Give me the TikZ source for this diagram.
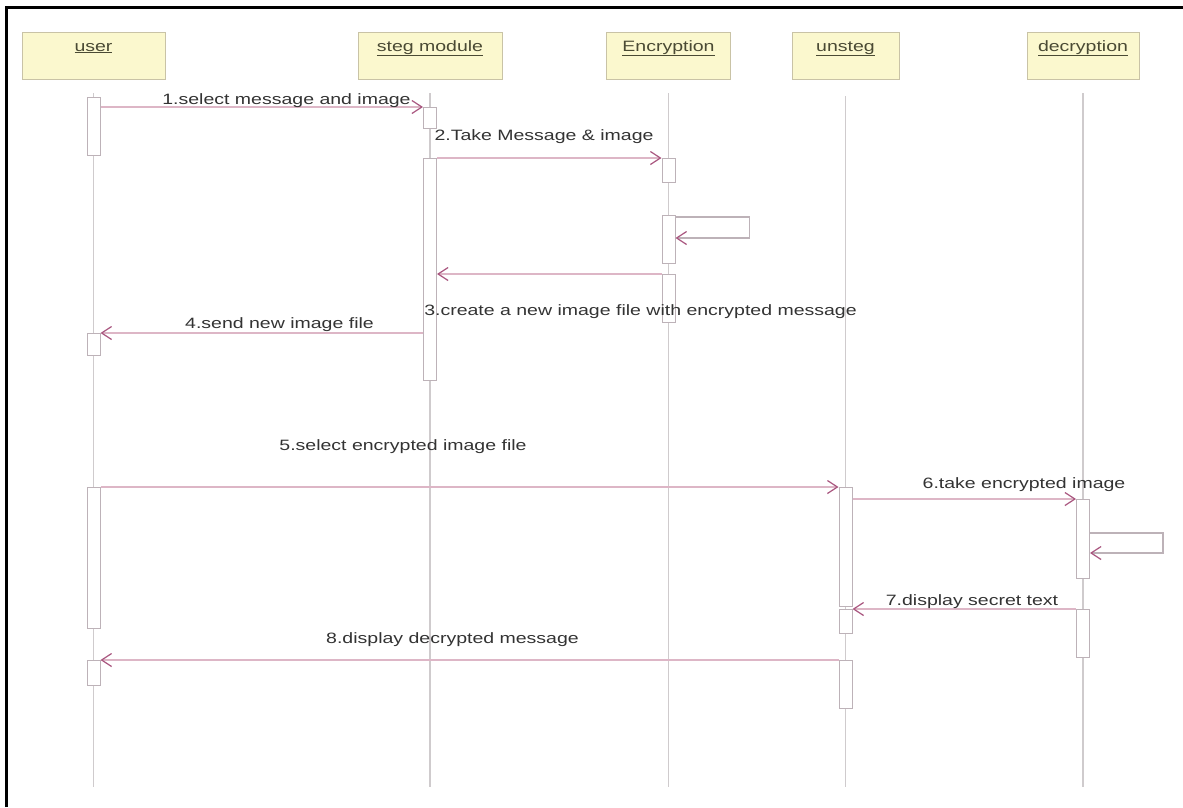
\documentclass[tikz,border=0pt]{standalone}
\usepackage{fontspec}
\setmainfont{Liberation Sans}[FakeStretch=1.3]
\usetikzlibrary{arrows.meta}

\definecolor{headfill}{HTML}{FBF8CE}
\definecolor{headline}{HTML}{C9C3A6}
\definecolor{headtext}{HTML}{4A4A34}
\definecolor{lifeline}{HTML}{CFCBCD}
\definecolor{barline}{HTML}{BDB2B8}
\definecolor{msgline}{HTML}{DDB6C6}
\definecolor{tipcol}{HTML}{A9567F}
\definecolor{lbltext}{HTML}{333333}

\tikzset{
  head/.style={draw=headline, fill=headfill, line width=1pt, minimum height=47pt, inner sep=0pt},
  headtxt/.style={text=headtext, font=\fontsize{15}{18}\selectfont, inner sep=0pt, anchor=base},
  life/.style={draw=lifeline, line width=1.2pt},
  actbar/.style={draw=barline, fill=white, line width=1pt, minimum width=13pt, inner sep=0pt, anchor=north},
  msg/.style={draw=msgline, line width=1.3pt,
    -{Straight Barb[length=10pt,width=13pt,color=tipcol,line width=1.2pt]}},
  selfmsg/.style={msg, draw=barline},
  lbl/.style={text=lbltext, font=\fontsize{15}{18}\selectfont, inner sep=0pt, anchor=base},
}

% activation bar: name, lifeline object, top y, bottom y
\newcommand\abar[4]{\node[actbar, minimum height={(#4-#3)*1pt}] (#1) at (#2.center |- 0,#3) {};}

\begin{document}
\begin{tikzpicture}[x=1pt,y=-1pt]
\useasboundingbox (0,0) rectangle (1183,807);
\fill[white] (0,0) rectangle (1183,807);

% outer frame
\draw[line width=2.6pt] (6.3,807) -- (6.3,7.3) -- (1183,7.3);

% object heads
\node[head, minimum width=143pt] (user) at (93.5,55.5) {};
\node[head, minimum width=144pt] (steg) at (430,55.5) {};
\node[head, minimum width=124pt] (enc)  at (668.5,55.5) {};
\node[head, minimum width=107pt] (unst) at (845.5,55.5) {};
\node[head, minimum width=112pt] (dec)  at (1083,55.5) {};

\node[headtxt] (usert) at (user.center |- 0,51) {\underline{user}};
\node[headtxt] (stegt) at (steg.center |- 0,51) {\underline{steg module}};
\node[headtxt] (enct)  at (enc.center  |- 0,51) {\underline{Encryption}};
\node[headtxt] (unstt) at (unst.center |- 0,51) {\underline{unsteg}};
\node[headtxt] (dect)  at (dec.center  |- 0,51) {\underline{decryption}};

% lifelines
\foreach \o/\t in {user/93, steg/93, enc/93, unst/96, dec/93}
  \draw[life] (\o.center |- 0,\t) -- (\o.center |- 0,787);

% activation bars
\abar{ub1}{user}{97}{155}
\abar{ub2}{user}{333}{355}
\abar{ub3}{user}{487}{628}
\abar{ub4}{user}{660}{685}
\abar{sb1}{steg}{107}{128}
\abar{sb2}{steg}{158}{380}
\abar{eb1}{enc}{158}{182}
\abar{eb2}{enc}{215}{263}
\abar{eb3}{enc}{274}{322}
\abar{nb1}{unst}{487}{606}
\abar{nb2}{unst}{609}{633}
\abar{nb3}{unst}{660}{708}
\abar{db1}{dec}{499}{578}
\abar{db2}{dec}{609}{657}

% messages
\draw[msg] (ub1.east |- sb1.north) -- (sb1.north west);
\draw[msg] (sb2.north east) -- (eb1.north west);
\draw[selfmsg] (eb2.east |- 0,217) -- ++(74,0) -- ++(0,21) -- (eb2.east |- 0,238);
\draw[msg] (eb3.north west) -- (sb2.east |- eb3.north);
\draw[msg] (sb2.west |- ub2.north) -- (ub2.north east);
\draw[msg] (ub3.north east) -- (nb1.north west);
\draw[msg] (nb1.east |- db1.north) -- (db1.north west);
\draw[selfmsg] (db1.east |- 0,533) -- ++(73,0) -- ++(0,20) -- (db1.east |- 0,553);
\draw[msg] (db2.north west) -- (nb2.north east);
\draw[msg] (nb3.north west) -- (ub4.north east);

% message labels
\node[lbl] (l1) at (286.5,104) {1.select message and image};
\node[lbl] (l2) at (544,140) {2.Take Message \& image};
\node[lbl] (l3) at (640.5,315) {3.create a new image file with encrypted message};
\node[lbl] (l4) at (279.5,328) {4.send new image file};
\node[lbl] (l5) at (403,450) {5.select encrypted image file};
\node[lbl] (l6) at (1024,488) {6.take encrypted image};
\node[lbl] (l7) at (972,605) {7.display secret text};
\node[lbl] (l8) at (452.5,643) {8.display decrypted message};
\end{tikzpicture}
\end{document}
